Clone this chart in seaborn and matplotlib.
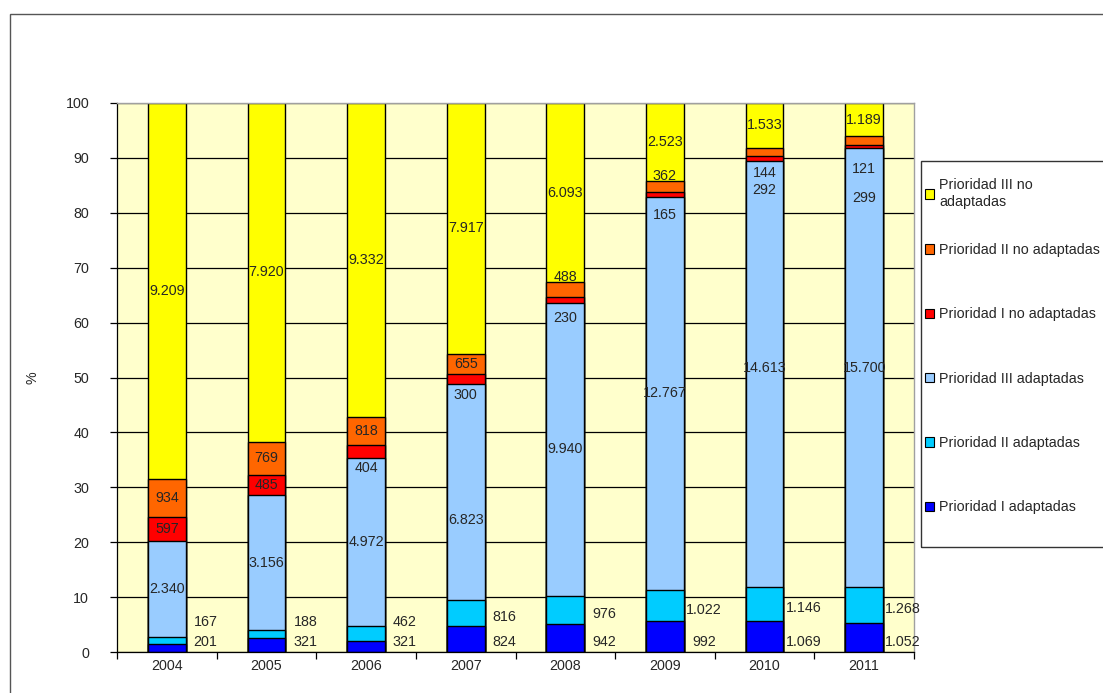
import numpy as np
import pandas as pd
import matplotlib
matplotlib.use("Agg")
import matplotlib.pyplot as plt
from matplotlib.patches import Patch, Rectangle
import seaborn as sns

# Data (absolute counts, bars show share of yearly total)
years = ['2004', '2005', '2006', '2007', '2008', '2009', '2010', '2011']
p1_adapt = [201, 321, 321, 824, 942, 992, 1069, 1052]
p2_adapt = [167, 188, 462, 816, 976, 1022, 1146, 1268]
p3_adapt = [2340, 3156, 4972, 6823, 9940, 12767, 14613, 15700]
p1_no = [597, 485, 404, 300, 230, 165, 144, 121]
p2_no = [934, 769, 818, 655, 488, 362, 292, 299]
p3_no = [9209, 7920, 9332, 7917, 6093, 2523, 1533, 1189]

series_names = ['Prioridad I adaptadas', 'Prioridad II adaptadas', 'Prioridad III adaptadas',
                'Prioridad I no adaptadas', 'Prioridad II no adaptadas', 'Prioridad III no adaptadas']
colors = ['#0000FF', '#00CCFF', '#99CCFF', '#FF0000', '#FF6600', '#FFFF00']

sns.set_theme(style="white")
plt.rcParams['font.family'] = ['Liberation Sans', 'DejaVu Sans']
fs = 10.3

df = pd.DataFrame(np.array([p1_adapt, p2_adapt, p3_adapt, p1_no, p2_no, p3_no]).T,
                  index=years, columns=series_names)
pct = df.div(df.sum(axis=1), axis=0) * 100
cum = pct.cumsum(axis=1)

fig = plt.figure(figsize=(11.03, 6.93), dpi=100)
ax = fig.add_axes([117 / 1103, 1 - 652 / 693, 797 / 1103, 549 / 693])
ax.set_facecolor('#FFFFCC')

# stacked bars: draw cumulative totals from the top layer down
for name, col in reversed(list(zip(series_names, colors))):
    sns.barplot(x=years, y=cum[name].values, color=col, saturation=1,
                edgecolor='black', linewidth=1.0, width=0.38, ax=ax)

fmt = lambda v: f"{v:,}".replace(',', '.')

# manual nudges (in % units) mimicking the original label placement
nudge = {('2006', 3): -3.0, ('2007', 3): -2.9, ('2008', 3): -3.3, ('2009', 3): -3.8,
         ('2010', 3): -2.7, ('2011', 3): -4.2,
         ('2008', 4): 2.2, ('2009', 4): 1.9, ('2010', 4): -7.0, ('2011', 4): -10.5,
         ('2007', 2): -5.1, ('2010', 2): 1.0}

for i, yr in enumerate(years):
    for j, name in enumerate(series_names):
        top = cum[name].iloc[i]
        h = pct[name].iloc[i]
        val = df[name].iloc[i]
        if j == 0:
            ax.text(i + 0.39, 1.9, fmt(val), ha='center', va='center', fontsize=fs)
        elif j == 1:
            ax.text(i + 0.39, max(top - h / 2 - 0.8, 5.5), fmt(val),
                    ha='center', va='center', fontsize=fs)
        else:
            y = top - h / 2 + nudge.get((yr, j), 0)
            ax.text(i, y, fmt(val), ha='center', va='center', fontsize=fs)

ax.set_xlim(-0.5, 7.5)
ax.set_ylim(0, 100)
ax.set_yticks(np.arange(0, 101, 10))
ax.yaxis.grid(True, color='black', linewidth=0.9)
ax.set_axisbelow(True)
ax.set_xticks(np.arange(-0.5, 8, 1))
ax.set_xticklabels([])
ax.set_xticks(range(len(years)), minor=True)
ax.set_xticklabels(years, minor=True)
ax.tick_params(axis='x', which='major', length=5, width=0.9, color='black', direction='out', bottom=True)
ax.tick_params(axis='x', which='minor', length=0, pad=5, labelsize=fs)
ax.tick_params(axis='y', length=5, width=0.9, color='black', direction='out', left=True, pad=15, labelsize=fs)
for s in ['left', 'bottom']:
    ax.spines[s].set_color('black')
    ax.spines[s].set_linewidth(0.9)
for s in ['top', 'right']:
    ax.spines[s].set_color('#A0A0A0')
    ax.spines[s].set_linewidth(1.0)
ax.set_ylabel('%', fontsize=fs, rotation=90)
ax.yaxis.set_label_coords(-0.097, 0.5)

# outer chart border and legend box (both run off the cropped image)
fig.patches.append(Rectangle((10 / 1103, -0.2), 1.2, 1 - 14 / 693 + 0.2, transform=fig.transFigure,
                             fill=False, edgecolor='#555555', linewidth=1.0))
fig.patches.append(Rectangle((921 / 1103, 1 - 547 / 693), 0.3, 386 / 693, transform=fig.transFigure,
                             fill=False, edgecolor='#333333', linewidth=1.0))

handles = [Patch(facecolor=c, edgecolor='black', linewidth=0.8) for c in reversed(colors)]
labels = ['Prioridad III no\nadaptadas'] + list(reversed(series_names))[1:]
leg_kw = dict(frameon=False, fontsize=fs, handlelength=0.65, handleheight=0.65,
              handletextpad=0.35, borderpad=0, borderaxespad=0, loc='upper left')
leg1 = fig.legend(handles[:1], labels[:1], bbox_to_anchor=(925 / 1103, 1 - 178 / 693),
                  labelspacing=0.3, **leg_kw)
leg1.get_texts()[0].set_linespacing(1.3)
fig.legend(handles[1:], labels[1:], bbox_to_anchor=(925 / 1103, 1 - 243 / 693), labelspacing=3.52, **leg_kw)

fig.savefig('out.png', dpi=100)
